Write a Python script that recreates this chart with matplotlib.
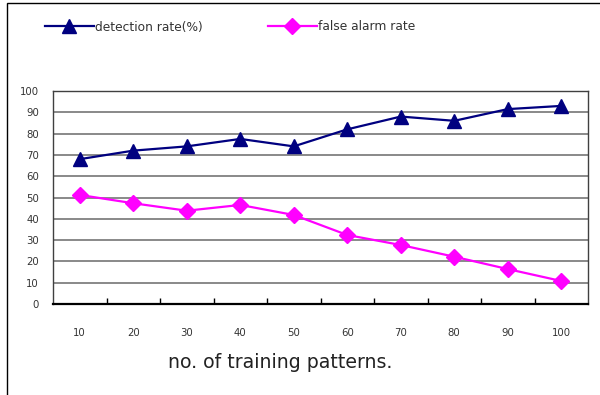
import matplotlib
matplotlib.use("Agg")
import matplotlib.pyplot as plt
from matplotlib.lines import Line2D
from matplotlib.patches import Rectangle
import numpy as np

patterns = ["10", "20", "30", "40", "50", "60", "70", "80", "90", "100"]
detection_rate = [68, 72, 74, 77.5, 74, 82, 88, 86, 91.5, 93]
false_alarm_rate = [51.2, 47.3, 43.8, 46.5, 41.8, 32.4, 27.7, 22.2, 16.4, 10.8]

W, H = 600, 395
plt.rcParams["font.family"] = ["DejaVu Sans"]
fig = plt.figure(figsize=(W / 100, H / 100), dpi=100)

# outer chart frame
fig.patches.append(Rectangle((7 / W, -0.1), 1.2, 1.1 - 3 / H,
                             transform=fig.transFigure, fill=False,
                             edgecolor="black", linewidth=1.0))

left, right, top, bottom = 53, 588, 91, 304
ax = fig.add_axes([left / W, 1 - bottom / H, (right - left) / W, (bottom - top) / H])

x = np.arange(len(patterns))
navy = "#000080"
magenta = "#ff00ff"
ax.plot(x, detection_rate, color=navy, lw=1.6, marker="^", ms=10, zorder=3)
ax.plot(x, false_alarm_rate, color=magenta, lw=1.6, marker="D", ms=8, zorder=3)

ax.set_xlim(-0.5, len(patterns) - 0.5)
ax.set_ylim(0, 100)
ax.set_yticks(range(0, 101, 10))
ax.yaxis.grid(True, color="#808080", lw=1.3)
ax.set_axisbelow(True)

ax.set_xticks(x)
ax.set_xticklabels(patterns)
ax.set_xticks(np.arange(0.5, len(patterns) - 1, 1.0), minor=True)
ax.tick_params(axis="x", which="major", length=0, pad=17, labelsize=7.3, colors="#333333")
ax.tick_params(axis="x", which="minor", length=4, direction="in", width=1, color="black")
ax.tick_params(axis="y", length=0, pad=10, labelsize=7.3, colors="#333333")

for s in ["top", "right", "left"]:
    ax.spines[s].set_color("#404040")
    ax.spines[s].set_linewidth(1.0)
ax.spines["bottom"].set_color("black")
ax.spines["bottom"].set_linewidth(1.6)

fig.text(280 / W, 1 - 362 / H, "no. of training patterns.", fontsize=13.6,
         ha="center", va="center", color="#222222")

handles = [
    Line2D([], [], color=navy, lw=1.6, marker="^", ms=10),
    Line2D([], [], color=magenta, lw=1.6, marker="D", ms=8),
]
fig.legend(handles, ["detection rate(%)", "false alarm rate"],
           loc="center left", bbox_to_anchor=(45 / W, 1 - 27 / H),
           ncol=2, frameon=False, fontsize=8.8, handlelength=4.0,
           handletextpad=0.1, columnspacing=5.3, borderaxespad=0,
           borderpad=0, labelcolor="#333333")

fig.savefig("out.png", dpi=100)
